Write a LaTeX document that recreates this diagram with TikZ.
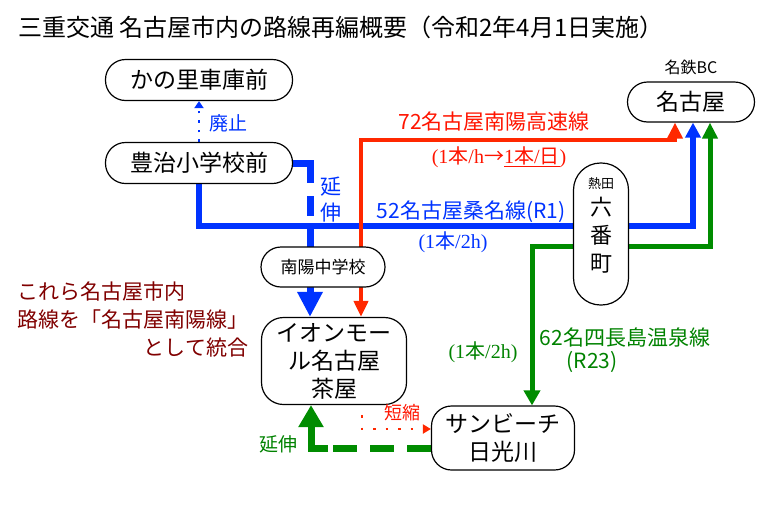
\documentclass[tikz,border=0pt]{standalone}
\usepackage{fontspec}
\setmainfont{Noto Sans CJK JP}
\newfontfamily\serif{Liberation Serif}
\usepackage{xcolor}
\definecolor{linered}{RGB}{255,40,0}
\definecolor{lineblue}{RGB}{0,51,255}
\definecolor{linegreen}{RGB}{0,140,0}
\definecolor{textred}{RGB}{255,20,0}
\definecolor{textgreen}{RGB}{0,130,0}
\definecolor{notered}{RGB}{128,0,0}
\usepackage{tikz}
\usetikzlibrary{arrows.meta,positioning,calc,backgrounds}
\tikzset{
  busstop/.style={rectangle, rounded corners=20pt, draw=black, line width=1.2pt, fill=white, align=center, inner sep=0pt},
  bigstop/.style={busstop, minimum width=187pt, minimum height=41pt, font=\fontsize{23}{28}\selectfont},
  linelabel/.style={inner sep=0pt, font=\fontsize{21}{26}\selectfont},
  freqlabel/.style={inner sep=0pt, font=\fontsize{20}{24}\selectfont},
  blueline/.style={draw=lineblue, line width=6pt},
  redline/.style={draw=linered, line width=4pt},
  greenline/.style={draw=linegreen, line width=5pt},
  abolished/.style={draw=lineblue, line width=2.5pt, dash pattern=on 2.5pt off 7pt, -{Triangle[width=9pt,length=7pt]}},
  shortened/.style={draw=linered, line width=2.5pt, dash pattern=on 2.5pt off 10pt, -{Triangle[width=9pt,length=8pt]}}
}
\newcommand{\hon}[1]{{\serif(1}本{\serif/#1)}}

\begin{document}
\begin{tikzpicture}[x=1pt,y=-1pt]
  \useasboundingbox (0,0) rectangle (760,520);

  \node[anchor=west, inner sep=0pt, font=\fontsize{24}{28}\selectfont] (title) at (18,27) {三重交通 名古屋市内の路線再編概要（令和2年4月1日実施）};

  % stops
  \node[bigstop] (kanosato) at (199,80) {かの里車庫前};
  \node[bigstop] (toyoji) at (199,163) {豊治小学校前};
  \node[busstop, minimum width=124pt, minimum height=40pt, font=\fontsize{17}{20}\selectfont] (nanyo) at (323,267) {南陽中学校};
  \node[bigstop, minimum width=145pt, minimum height=87pt, rounded corners=22pt] (aeon) at (334,361) {イオンモー\\ル名古屋\\茶屋};
  \node[bigstop, minimum width=143pt, minimum height=64pt] (sunbeach) at (503,438) {サンビーチ\\日光川};
  \node[bigstop, minimum width=127pt, minimum height=40pt] (nagoya) at (691,102) {名古屋};
  \node[busstop, minimum width=55pt, minimum height=142pt, rounded corners=27pt] (rokuban) at (601,234) {};
  \node[align=center, inner sep=0pt, font=\fontsize{22}{28}\selectfont] (rokubantext) at (601,225) {{\fontsize{13}{15}\selectfont 熱田}\\[-1pt]六\\番\\町};
  \node[inner sep=0pt, font=\fontsize{16}{18}\selectfont, above=6pt of nagoya] (meitetsu) {名鉄BC};

  \coordinate (turn52) at (693,226);
  \coordinate (turn72) at (361,140);
  \coordinate (turn62) at (532,246);
  \coordinate (extA) at (310,163);
  \coordinate (extC) at (310,226);
  \coordinate (shortA) at (362,415);
  \coordinate (extG) at (311,448);

  \begin{pgfonlayer}{background}
    % 52
    \draw[blueline, -{Triangle[width=15pt,length=15pt]}] (toyoji.south) |- (turn52) -- ([xshift=2pt]nagoya.south);
    % 72
    \draw[redline, {Triangle[width=14pt,length=16pt]}-{Triangle[width=15pt,length=16pt]}] ([xshift=27pt]aeon.north) -- (turn72) -| ([xshift=-16pt]nagoya.south);
    % 62
    \draw[greenline, {Triangle[width=16pt,length=15pt]}-{Triangle[width=15pt,length=16pt]}] ([xshift=29pt]sunbeach.north) -- (turn62) -| ([xshift=19pt]nagoya.south);
    % extensions
    \draw[blueline, line width=7pt, dash pattern=on 37pt off 13pt on 20pt off 10pt] (toyoji.east) -- (extA) -- (extC);
    \draw[blueline, line width=7pt, -{Triangle[width=24pt,length=25pt]}] (extC) -- (extC |- aeon.north);
    \draw[abolished] (toyoji.north) -- (kanosato.south);
    \draw[shortened] (shortA) |- ([yshift=9pt]sunbeach.west);
    \draw[greenline, line width=7pt, dash pattern=on 24pt off 13pt] ([yshift=-10pt]sunbeach.west) -- (extG);
    \draw[greenline, line width=7pt, -{Triangle[width=24pt,length=22pt]}] ([xshift=17pt]extG) -- (extG) -- (extG |- aeon.south);
  \end{pgfonlayer}

  % labels
  \node[linelabel, text=textred] (lbl72) at (494,122) {72名古屋南陽高速線};
  \node[freqlabel, text=textred] (freq72) at (499,157) {{\serif(1}本{\serif/h}→\underline{{\serif 1}本{\serif/}日}{\serif)}};
  \node[linelabel, text=lineblue] (lbl52) at (471,212) {52名古屋桑名線(R1)};
  \node[freqlabel, text=lineblue] (freq52) at (453,242) {\hon{2h}};
  \node[linelabel, text=textgreen] (lbl62) at (625,337) {62名四長島温泉線};
  \node[linelabel, text=textgreen] (lbl62b) at (592,362) {(R23)};
  \node[freqlabel, text=textgreen] (freq62) at (483,352) {\hon{2h}};
  \node[linelabel, text=lineblue, align=center] (ext52) at (331,200) {延\\伸};
  \node[linelabel, text=lineblue, font=\fontsize{19}{22}\selectfont] (abolish) at (228,123) {廃止};
  \node[linelabel, text=textred, font=\fontsize{18}{22}\selectfont] (shorten) at (402,413) {短縮};
  \node[linelabel, text=textgreen, font=\fontsize{19}{22}\selectfont] (extend62) at (278,444) {延伸};
  \node[anchor=north west, inner sep=0pt, text=notered, font=\fontsize{21}{28}\selectfont] (merged) at (17,280) {\begin{tabular}{@{}l@{}}これら名古屋市内\\路線を「名古屋南陽線」\\\multicolumn{1}{@{}r@{}}{として統合}\end{tabular}};
\end{tikzpicture}
\end{document}
